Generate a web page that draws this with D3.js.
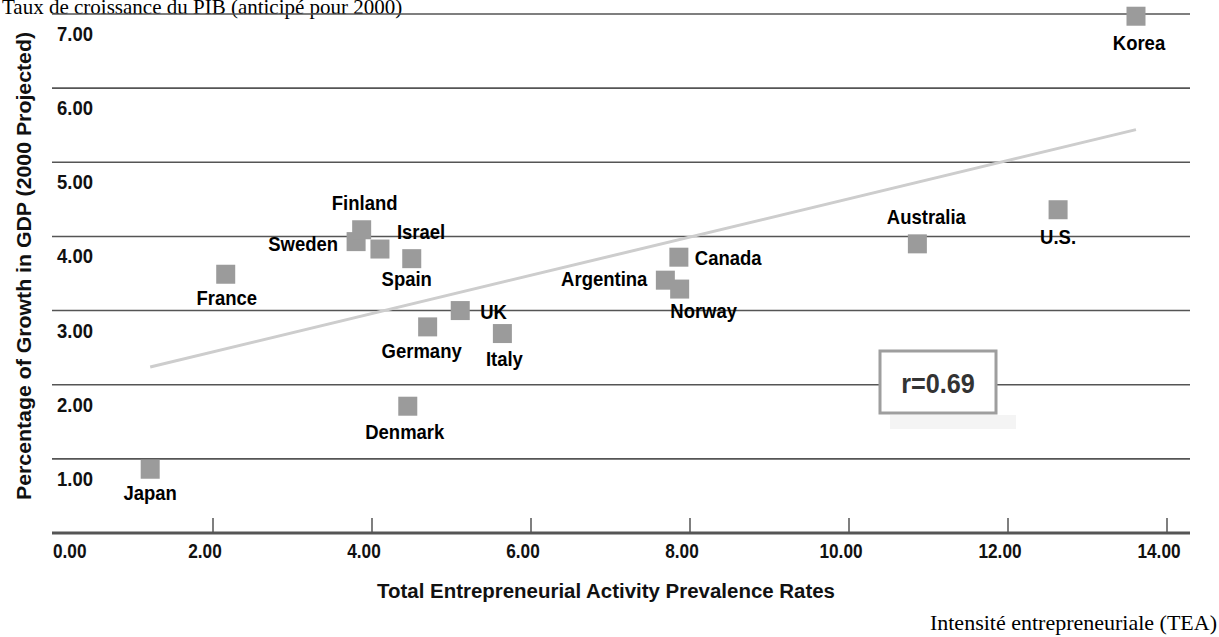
<!DOCTYPE html>
<html>
<head>
<meta charset="utf-8">
<script src="https://cdn.jsdelivr.net/npm/d3@7"></script>
<style>
  html, body { margin: 0; padding: 0; background: #fff; }
  svg { display: block; }
  .cond { font-family: "Liberation Sans", Arial, sans-serif; font-weight: bold; }
  .serif { font-family: "Liberation Serif", "Times New Roman", serif; }
</style>
</head>
<body>
<svg id="chart" width="1219" height="637"></svg>
<script>
// ---- data ----
const countries = ["Japan","France","Sweden","Finland","Israel","Spain","Germany","Denmark","UK","Italy","Argentina","Canada","Norway","Australia","U.S.","Korea"];
const teaRates  = [1.21, 2.16, 3.80, 3.87, 4.10, 4.50, 4.70, 4.45, 5.11, 5.64, 7.69, 7.86, 7.87, 10.86, 12.63, 13.61];
const gdpGrowth = [0.86, 3.49, 3.93, 4.09, 3.83, 3.70, 2.78, 1.71, 3.00, 2.69, 3.41, 3.72, 3.29, 3.90, 4.36, 6.97];
const trendX = [1.21, 13.61];
const trendY = [2.24, 5.44];
const xTickValues = [0, 2, 4, 6, 8, 10, 12, 14];
const yTickValues = [1, 2, 3, 4, 5, 6, 7];
const correlationLabel = "r=0.69";
const yTitle = "Percentage of Growth in GDP (2000 Projected)";
const xTitle = "Total Entrepreneurial Activity Prevalence Rates";
const frenchY = "Taux de croissance du PIB (anticipé pour 2000)";
const frenchX = "Intensité entrepreneuriale (TEA)";

// ---- label placement (style, not data) ----
const labelPlace = {
  "Japan":    {dx: 0,   dy: 31, a: "middle"},
  "France":   {dx: 1,   dy: 31, a: "middle"},
  "Sweden":   {dx: -18, dy: 9,  a: "end"},
  "Finland":  {dx: 3,   dy: -20, a: "middle"},
  "Israel":   {dx: 17,  dy: -10, a: "start"},
  "Spain":    {dx: -5,  dy: 27, a: "middle"},
  "Germany":  {dx: -6,  dy: 31, a: "middle"},
  "Denmark":  {dx: -3,  dy: 33, a: "middle"},
  "UK":       {dx: 20,  dy: 8,  a: "start"},
  "Italy":    {dx: 2,   dy: 32, a: "middle"},
  "Argentina":{dx: -18, dy: 6,  a: "end"},
  "Canada":   {dx: 16,  dy: 8,  a: "start"},
  "Norway":   {dx: 24,  dy: 29, a: "middle"},
  "Australia":{dx: 9,   dy: -20, a: "middle"},
  "U.S.":     {dx: 0,   dy: 34, a: "middle"},
  "Korea":    {dx: 3,   dy: 34, a: "middle"}
};

// squeeze a text horizontally to mimic a condensed face
function condense(sel, f) {
  sel.each(function () {
    const l = this.getComputedTextLength();
    d3.select(this).attr("textLength", l * f).attr("lengthAdjust", "spacingAndGlyphs");
  });
}

const svg = d3.select("#chart");
const x = d3.scaleLinear().domain([0, 14]).range([54, 1167]);
const y = d3.scaleLinear().domain([0, 7]).range([533, 14]);
const gridLeft = 52, gridRight = 1190;
const gridColor = "#555";

// French y title (top)
svg.append("text").attr("class", "serif")
  .attr("x", 2).attr("y", 14)
  .attr("font-size", 21).attr("fill", "#000")
  .text(frenchY);

// horizontal gridlines
svg.append("g").selectAll("line").data(yTickValues).join("line")
  .attr("x1", gridLeft).attr("x2", gridRight)
  .attr("y1", d => y(d)).attr("y2", d => y(d))
  .attr("stroke", gridColor).attr("stroke-width", 1.6);

// y tick labels (below each gridline)
svg.append("g").selectAll("text").data(yTickValues).join("text")
  .attr("class", "cond")
  .attr("x", 57).attr("y", d => y(d) + 27)
  .attr("font-size", 21).attr("fill", "#111")
  .text(d => d3.format(".2f")(d))
  .call(condense, 0.88);

// x axis line
svg.append("line")
  .attr("x1", gridLeft).attr("x2", gridRight)
  .attr("y1", y(0)).attr("y2", y(0))
  .attr("stroke", gridColor).attr("stroke-width", 3);

// x ticks
svg.append("g").selectAll("line").data(xTickValues.filter(d => d > 0)).join("line")
  .attr("x1", d => x(d)).attr("x2", d => x(d))
  .attr("y1", y(0)).attr("y2", y(0) - 15)
  .attr("stroke", gridColor).attr("stroke-width", 1.5);

// x tick labels
svg.append("g").selectAll("text").data(xTickValues).join("text")
  .attr("class", "cond")
  .attr("x", d => d === 0 ? x(d) - 1 : x(d) - 8)
  .attr("y", y(0) + 25)
  .attr("text-anchor", d => d === 0 ? "start" : "middle")
  .attr("font-size", 21).attr("fill", "#111")
  .text(d => d3.format(".2f")(d))
  .call(condense, 0.82);

// axis titles
svg.append("text").attr("class", "cond")
  .attr("transform", "translate(31,266) rotate(-90)")
  .attr("text-anchor", "middle")
  .attr("font-size", 20).attr("fill", "#111")
  .attr("textLength", 468).attr("lengthAdjust", "spacingAndGlyphs")
  .text(yTitle);

svg.append("text").attr("class", "cond")
  .attr("x", 606).attr("y", 598)
  .attr("text-anchor", "middle")
  .attr("font-size", 20).attr("fill", "#111")
  .attr("textLength", 458).attr("lengthAdjust", "spacingAndGlyphs")
  .text(xTitle);

// French x title
svg.append("text").attr("class", "serif")
  .attr("x", 1217).attr("y", 630)
  .attr("text-anchor", "end")
  .attr("font-size", 22).attr("fill", "#000")
  .text(frenchX);

// trend line
svg.append("line")
  .attr("x1", x(trendX[0])).attr("y1", y(trendY[0]))
  .attr("x2", x(trendX[1])).attr("y2", y(trendY[1]))
  .attr("stroke", "#cdcdcd").attr("stroke-width", 3);

// correlation box
const boxX = 880, boxY = 351, boxW = 116, boxH = 62;
svg.append("rect").attr("x", boxX + 10).attr("y", boxY + boxH + 2)
  .attr("width", boxW + 10).attr("height", 14).attr("fill", "#f4f4f4");
svg.append("rect").attr("x", boxX).attr("y", boxY)
  .attr("width", boxW).attr("height", boxH)
  .attr("fill", "#fff").attr("stroke", "#9e9e9e").attr("stroke-width", 3);
svg.append("text").attr("class", "cond")
  .attr("x", boxX + boxW / 2).attr("y", boxY + 42)
  .attr("text-anchor", "middle")
  .attr("font-size", 28).attr("fill", "#333")
  .text(correlationLabel)
  .call(condense, 0.9);

// points
const pts = countries.map((c, i) => ({name: c, tx: teaRates[i], gy: gdpGrowth[i]}));
const sq = 19;
svg.append("g").selectAll("rect").data(pts).join("rect")
  .attr("x", d => x(d.tx) - sq / 2).attr("y", d => y(d.gy) - sq / 2)
  .attr("width", sq).attr("height", sq)
  .attr("fill", "#9b9b9b");

// labels
svg.append("g").selectAll("text").data(pts).join("text")
  .attr("class", "cond")
  .attr("x", d => x(d.tx) + labelPlace[d.name].dx)
  .attr("y", d => y(d.gy) + labelPlace[d.name].dy)
  .attr("text-anchor", d => labelPlace[d.name].a)
  .attr("font-size", 21).attr("fill", "#000")
  .text(d => d.name)
  .call(condense, 0.88);
</script>
</body>
</html>
